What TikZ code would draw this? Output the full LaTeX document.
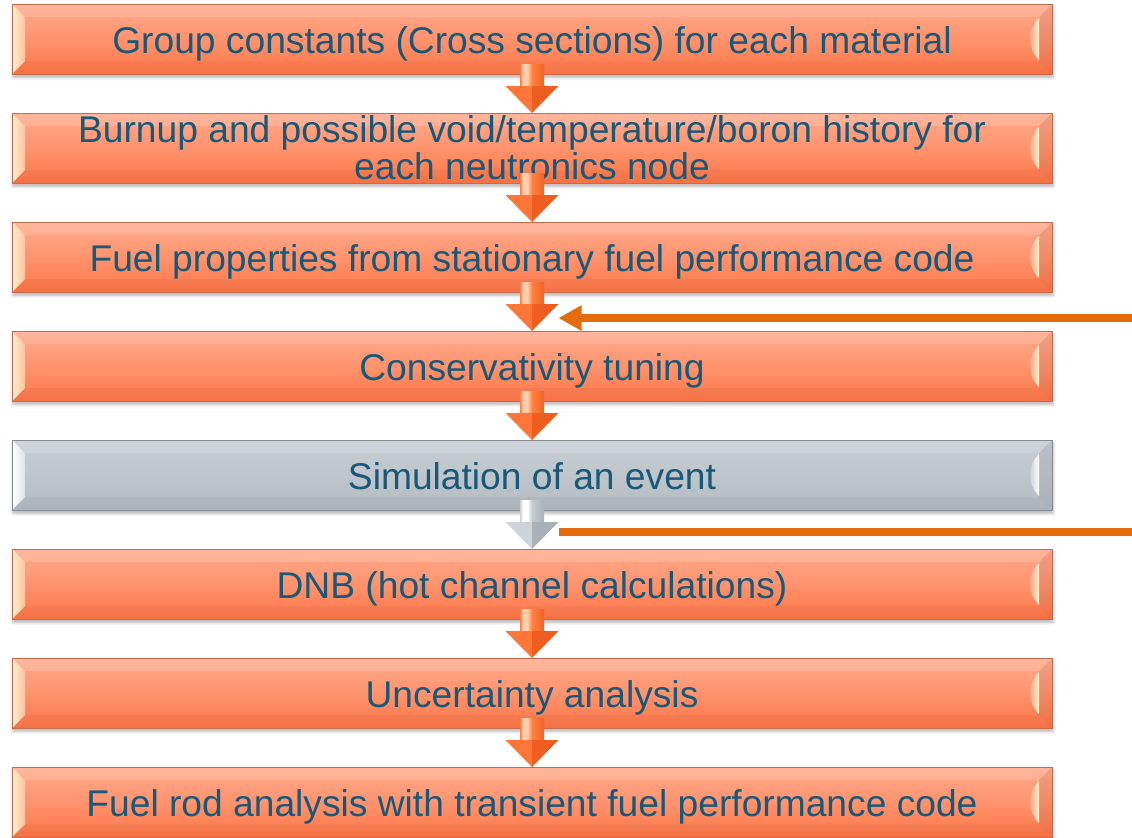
\documentclass[tikz,border=0pt]{standalone}
\usepackage{fontspec}
\setmainfont{Liberation Sans}
\usetikzlibrary{calc,shadows.blur,arrows.meta}

\definecolor{txt}{RGB}{24,88,120}
\definecolor{otop}{HTML}{FFAA8C}
\definecolor{omid}{HTML}{FF936E}
\definecolor{obot}{HTML}{FF7646}
\definecolor{oedge}{HTML}{C46C4C}
\definecolor{ocream}{HTML}{FFF0CE}
\definecolor{gtop}{HTML}{C7CED4}
\definecolor{gmid}{HTML}{BEC5CB}
\definecolor{gbot}{HTML}{B4BCC2}
\definecolor{gedge}{HTML}{858C92}
\definecolor{gwhite}{HTML}{FFFFFF}
\definecolor{feed}{HTML}{E46C0A}
% block arrow colours
\definecolor{oaL}{HTML}{FF7E48}
\definecolor{oaH}{HTML}{FFCFAE}
\definecolor{oaM}{HTML}{FF8040}
\definecolor{oaR}{HTML}{F2621F}
\definecolor{ohL}{HTML}{FF7638}
\definecolor{ohR}{HTML}{EE5E20}
\definecolor{gaL}{HTML}{C9D0D6}
\definecolor{gaH}{HTML}{FFFFFF}
\definecolor{gaM}{HTML}{C4CCD2}
\definecolor{gaR}{HTML}{A8B1B8}
\definecolor{ghL}{HTML}{CDD4DA}
\definecolor{ghR}{HTML}{A9B2B9}

\pgfdeclarehorizontalshading{oshaft}{100bp}{color(0bp)=(oaL); color(25bp)=(oaL);
  color(31bp)=(oaH); color(40bp)=(oaH); color(50bp)=(oaM); color(75bp)=(oaR); color(100bp)=(oaR)}
\pgfdeclarehorizontalshading{gshaft}{100bp}{color(0bp)=(gaL); color(25bp)=(gaL);
  color(31bp)=(gaH); color(40bp)=(gaH); color(50bp)=(gaM); color(75bp)=(gaR); color(100bp)=(gaR)}

% bevelled faces drawn inside a box outline
\newcommand\bevelfaces[2]{%
  \path (path picture bounding box.north west) coordinate (pp-nw)
        (path picture bounding box.north east) coordinate (pp-ne)
        (path picture bounding box.south west) coordinate (pp-sw)
        (path picture bounding box.south east) coordinate (pp-se);
  \fill[white, opacity=0.15] (pp-nw) -- (pp-ne) -- ++(-13,13) -- ($(pp-nw)+(13,13)$) -- cycle;
  \fill[black, opacity=0.035] (pp-sw) -- (pp-se) -- ++(-13,-13) -- ($(pp-sw)+(13,-13)$) -- cycle;
  \shade[left color=#1, right color=#1!50!#2] (pp-nw) -- ++(13,13) -- ($(pp-sw)+(13,-13)$) -- (pp-sw) -- cycle;
  \fill[black, opacity=0.06] (pp-ne) -- ++(-13,13) -- ($(pp-se)+(-13,-13)$) -- (pp-se) -- cycle;
  \shade[left color=#2, right color=#1] ($(pp-ne)+(-13,14)$)
     .. controls ($(pp-ne)+(-25,26)$) and ($(pp-se)+(-25,-26)$) .. ($(pp-se)+(-13,-14)$) -- cycle;
}

\tikzset{
  x=0.5pt, y=-0.5pt,
  stagebox/.style={minimum width=520pt, minimum height=35pt, inner sep=0pt,
    font=\fontsize{18.6}{18.6}\selectfont, text=txt, align=center, line width=0.5pt,
    blur shadow={shadow xshift=0.5pt, shadow yshift=-1.6pt, shadow blur radius=1.6pt, shadow opacity=30}},
  oneline/.style={text height=14pt, text depth=0pt},
  orangebox/.style={stagebox, draw=oedge, top color=otop, bottom color=obot, middle color=omid,
    path picture={\bevelfaces{ocream}{omid}}},
  graybox/.style={stagebox, draw=gedge, top color=gtop, bottom color=gbot, middle color=gmid,
    path picture={\bevelfaces{gwhite}{gmid}}},
  feedline/.style={draw=feed, line width=3.7pt},
  pics/blockarrow/.style n args={3}{code={
    \shade[shading=#1] (-12,-29.5) rectangle (12,-7.5);
    \fill[#2] (-26.5,-7.5) -- (0,-7.5) -- (0,19.5) -- cycle;
    \fill[#3] (0,-7.5) -- (26.5,-7.5) -- (0,19.5) -- cycle;
    \coordinate (-e) at (26.5,5);
  }},
}

\begin{document}
\begin{tikzpicture}
\useasboundingbox (0,0) rectangle (1132,837);

% process stages
\node[orangebox, oneline] (b1) at (532,39)  {Group constants (Cross sections) for each material};
\node[orangebox]          (b2) at (532,148) {Burnup and possible void/temperature/boron history for\\each neutronics node};
\node[orangebox, oneline] (b3) at (532,257) {Fuel properties from stationary fuel performance code};
\node[orangebox, oneline] (b4) at (532,366) {Conservativity tuning};
\node[graybox, oneline]   (b5) at (532,475) {Simulation of an event};
\node[orangebox, oneline] (b6) at (532,584) {DNB (hot channel calculations)};
\node[orangebox, oneline] (b7) at (532,693) {Uncertainty analysis};
\node[orangebox, oneline] (b8) at (532,802) {Fuel rod analysis with transient fuel performance code};

% block arrows between stages
\pic (a1) at ($(b1.south)!0.5!(b2.north)$) {blockarrow={oshaft}{ohL}{ohR}};
\pic (a2) at ($(b2.south)!0.5!(b3.north)$) {blockarrow={oshaft}{ohL}{ohR}};
\pic (a3) at ($(b3.south)!0.5!(b4.north)$) {blockarrow={oshaft}{ohL}{ohR}};
\pic (a4) at ($(b4.south)!0.5!(b5.north)$) {blockarrow={oshaft}{ohL}{ohR}};
\pic (a5) at ($(b5.south)!0.5!(b6.north)$) {blockarrow={gshaft}{ghL}{ghR}};
\pic (a6) at ($(b6.south)!0.5!(b7.north)$) {blockarrow={oshaft}{ohL}{ohR}};
\pic (a7) at ($(b7.south)!0.5!(b8.north)$) {blockarrow={oshaft}{ohL}{ohR}};

% side feed lines
\coordinate (in1) at (1132,318);
\coordinate (out1) at (1132,532);
\draw[feedline, -{Triangle[length=11.5pt,width=12pt]}] (in1) -- (in1 -| a3-e);
\draw[feedline] (a5-e |- out1) -- (out1);
\end{tikzpicture}
\end{document}
